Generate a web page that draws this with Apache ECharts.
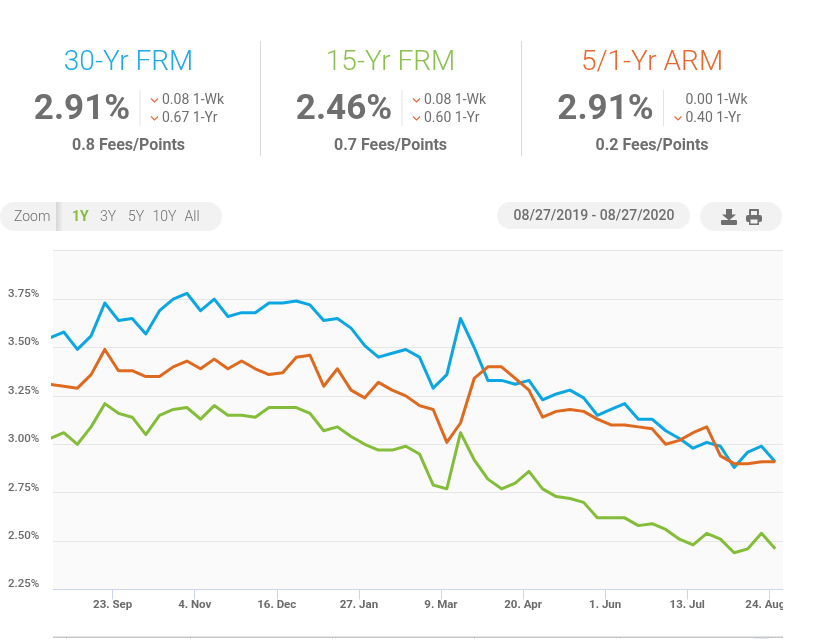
<!DOCTYPE html>
<html><head><meta charset="utf-8">
<style>html,body{margin:0;padding:0;background:#fff}#c{width:821px;height:639px}</style>
<script src="https://cdn.jsdelivr.net/npm/echarts@6/dist/echarts.min.js"></script>
</head><body><div id="c"></div>
<script>
const dates = ['2019-08-22','2019-08-29','2019-09-05','2019-09-12','2019-09-19','2019-09-26','2019-10-03','2019-10-10','2019-10-17','2019-10-24','2019-10-31','2019-11-07','2019-11-14','2019-11-21','2019-11-28','2019-12-05','2019-12-12','2019-12-19','2019-12-26','2020-01-02','2020-01-09','2020-01-16','2020-01-23','2020-01-30','2020-02-06','2020-02-13','2020-02-20','2020-02-27','2020-03-05','2020-03-12','2020-03-19','2020-03-26','2020-04-02','2020-04-09','2020-04-16','2020-04-23','2020-04-30','2020-05-07','2020-05-14','2020-05-21','2020-05-28','2020-06-04','2020-06-11','2020-06-18','2020-06-25','2020-07-02','2020-07-09','2020-07-16','2020-07-23','2020-07-30','2020-08-06','2020-08-13','2020-08-20','2020-08-27'];
const frm30 = [3.55,3.58,3.49,3.56,3.73,3.64,3.65,3.57,3.69,3.75,3.78,3.69,3.75,3.66,3.68,3.68,3.73,3.73,3.74,3.72,3.64,3.65,3.60,3.51,3.45,3.47,3.49,3.45,3.29,3.36,3.65,3.50,3.33,3.33,3.31,3.33,3.23,3.26,3.28,3.24,3.15,3.18,3.21,3.13,3.13,3.07,3.03,2.98,3.01,2.99,2.88,2.96,2.99,2.91];
const frm15 = [3.03,3.06,3.00,3.09,3.21,3.16,3.14,3.05,3.15,3.18,3.19,3.13,3.20,3.15,3.15,3.14,3.19,3.19,3.19,3.16,3.07,3.09,3.04,3.00,2.97,2.97,2.99,2.95,2.79,2.77,3.06,2.92,2.82,2.77,2.80,2.86,2.77,2.73,2.72,2.70,2.62,2.62,2.62,2.58,2.59,2.56,2.51,2.48,2.54,2.51,2.44,2.46,2.54,2.46];
const arm51 = [3.31,3.30,3.29,3.36,3.49,3.38,3.38,3.35,3.35,3.40,3.43,3.39,3.44,3.39,3.43,3.39,3.36,3.37,3.45,3.46,3.30,3.39,3.28,3.24,3.32,3.28,3.25,3.20,3.18,3.01,3.11,3.34,3.40,3.40,3.34,3.28,3.14,3.17,3.18,3.17,3.13,3.10,3.10,3.09,3.08,3.00,3.02,3.06,3.09,2.94,2.90,2.90,2.91,2.91];
const tickDates = ['2019-09-23','2019-11-04','2019-12-16','2020-01-27','2020-03-09','2020-04-20','2020-06-01','2020-07-13','2020-08-24'];
const tickLabels = ['23. Sep','4. Nov','16. Dec','27. Jan','9. Mar','20. Apr','1. Jun','13. Jul','24. Aug'];
const yTicks = [2.25,2.5,2.75,3,3.25,3.5,3.75];
const xRange = ['2019-08-23T12:00:00Z','2020-08-31T00:00:00Z'];
const ms = d => +new Date(d.length>10?d:d+'T00:00:00Z');

const BLUE='#0ca6e3', GREEN='#84bd39', ORANGE='#df691e', GREY='#6f6f6f', SOFT='#f2f2f2', CHEV='#e8673c';
const FF='Roboto';
const panels = [
 {title:'30-Yr FRM',color:'#1fa9e8',cx:128.5,rate:'2.91%',wk:'0.08 1-Wk',yr:'0.67 1-Yr',fees:'0.8 Fees/Points',wkDown:true,ox:0},
 {title:'15-Yr FRM',color:'#8cc152',cx:390.5,rate:'2.46%',wk:'0.08 1-Wk',yr:'0.60 1-Yr',fees:'0.7 Fees/Points',wkDown:true,ox:262},
 {title:'5/1-Yr ARM',color:'#e8682f',cx:652,rate:'2.91%',wk:'0.00 1-Wk',yr:'0.40 1-Yr',fees:'0.2 Fees/Points',wkDown:false,ox:523.5}
];
const txt=(x,y,text,size,color,weight,align)=>({type:'text',x,y,silent:true,style:{text,fontFamily:FF,fontSize:size,fill:color,fontWeight:weight||400,align:align||'center',verticalAlign:'middle'}});
const rect=(x,y,w,h,fill,r,z)=>({type:'rect',silent:true,z:z||0,shape:{x,y,width:w,height:h,r:r||0},style:{fill}});
const poly=(points,fill)=>({type:'polygon',silent:true,shape:{points},style:{fill}});
const chev=(x,y)=>({type:'polyline',silent:true,shape:{points:[[x,y],[x+3.5,y+3.5],[x+7,y]]},style:{stroke:CHEV,lineWidth:1.2,fill:null}});
const g=[];
g.push(rect(260,41,1,115,'#d9d9d9'),rect(521,41,1,115,'#d9d9d9'));
panels.forEach(p=>{
 g.push(txt(p.cx,62.5,p.title,28,p.color,300));
 g.push(txt(p.ox+82,110.5,p.rate,35,GREY,700));
 g.push(rect(p.ox+139.5,90,1,36,'#e3e3e3'));
 if(p.wkDown) g.push(chev(p.ox+151,98.5));
 g.push(chev(p.ox+151,116.5));
 g.push(txt(p.ox+162,100.5,p.wk,14,GREY,400,'left'));
 g.push(txt(p.ox+162,118,p.yr,14,GREY,400,'left'));
 g.push(txt(p.cx,146,p.fees,16,GREY,700));
});
g.push(rect(0,202,222,29,SOFT,14.5));
g.push({type:'rect',silent:true,shape:{x:56,y:202,width:6,height:29},style:{fill:{type:'linear',x:0,y:0,x2:1,y2:0,colorStops:[{offset:0,color:'#d6d6d6'},{offset:1,color:'#eeeeee'}]}}});
g.push(txt(14,217,'Zoom',14,GREY,300,'left'));
g.push(txt(72,217,'1Y',14,GREEN,700,'left'));
g.push(txt(100,217,'3Y',14,GREY,300,'left'));
g.push(txt(128,217,'5Y',14,GREY,300,'left'));
g.push(txt(152.5,217,'10Y',14,GREY,300,'left'));
g.push(txt(184.5,217,'All',14,GREY,300,'left'));
g.push(rect(497,202,193,27,SOFT,13.5));
g.push(txt(594,216,'08/27/2019 - 08/27/2020',14,GREY,500));
g.push(rect(700,202,82,29,SOFT,14.5));
// download icon
g.push(poly([[726,209],[732,209],[732,214.5],[736,214.5],[729,220.5],[722,214.5],[726,214.5]],GREY));
g.push(rect(721,220,16,5,GREY,1));
// print icon
g.push(rect(749,209,10,6,GREY,1));
g.push(rect(751,211,6,4,SOFT));
g.push(rect(746,215,16,7,GREY,2));
g.push(rect(749,220,10,5,GREY));
g.push(rect(750.5,219.5,7,4,SOFT));
// clipped navigator edge
g.push(rect(53,636.5,730,1.5,'#c8c8c8'));
g.push(rect(754,638,15,1,'#dfe6f2'));
[66,190,332,474,616].forEach(x=>g.push(rect(x,638,1,1,'#dddddd')));
// keeps the last x label cut at the chart edge
g.push(rect(783,595,38,20,'#ffffff',0,50));

const chart=echarts.init(document.getElementById('c'));
const mkS=(name,vals,color)=>({name,type:'line',data:dates.map((d,i)=>[ms(d),vals[i]]),showSymbol:false,symbol:'none',smooth:false,animation:false,clip:true,lineStyle:{color,width:3,join:'round'},z:3});
chart.setOption({
 animation:false,
 backgroundColor:'#fff',
 grid:{left:53,right:38,top:250.7,bottom:49.5,backgroundColor:'#fafafa',show:true,borderWidth:0},
 xAxis:{type:'value',min:ms(xRange[0]),max:ms(xRange[1]),
  axisLine:{onZero:false,lineStyle:{color:'#ccd6eb',width:1}},
  axisTick:{show:true,length:10,lineStyle:{color:'#ccd6eb',width:1},customValues:tickDates.map(ms)},
  splitLine:{show:false},
  axisLabel:{customValues:tickDates.map(ms),
   formatter:v=>{const i=tickDates.findIndex(d=>ms(d)===+v);return i===tickDates.length-1?'{last|'+tickLabels[i]+'}':(tickLabels[i]||'');},
   rich:{last:{fontFamily:FF,fontSize:11.5,fontWeight:700,color:'#6b6b6b',padding:[0,8,0,0]}},
   fontFamily:FF,fontSize:11.5,fontWeight:700,color:'#6b6b6b',margin:10,hideOverlap:false}},
 yAxis:{type:'value',min:2.25,max:4,interval:0.25,
  axisLine:{show:false},axisTick:{show:false},
  splitLine:{show:true,lineStyle:{color:'#e6e6e6',width:1}},
  axisLabel:{align:'left',margin:45,verticalAlign:'bottom',lineHeight:10,fontFamily:FF,fontSize:11.5,fontWeight:500,color:'#6b6b6b',
   formatter:v=>yTicks.includes(+v.toFixed(2))?v.toFixed(2)+'%':''}},
 series:[mkS('30-Yr FRM',frm30,BLUE),mkS('5/1-Yr ARM',arm51,ORANGE),mkS('15-Yr FRM',frm15,GREEN)],
 graphic:g
});
</script></body></html>
